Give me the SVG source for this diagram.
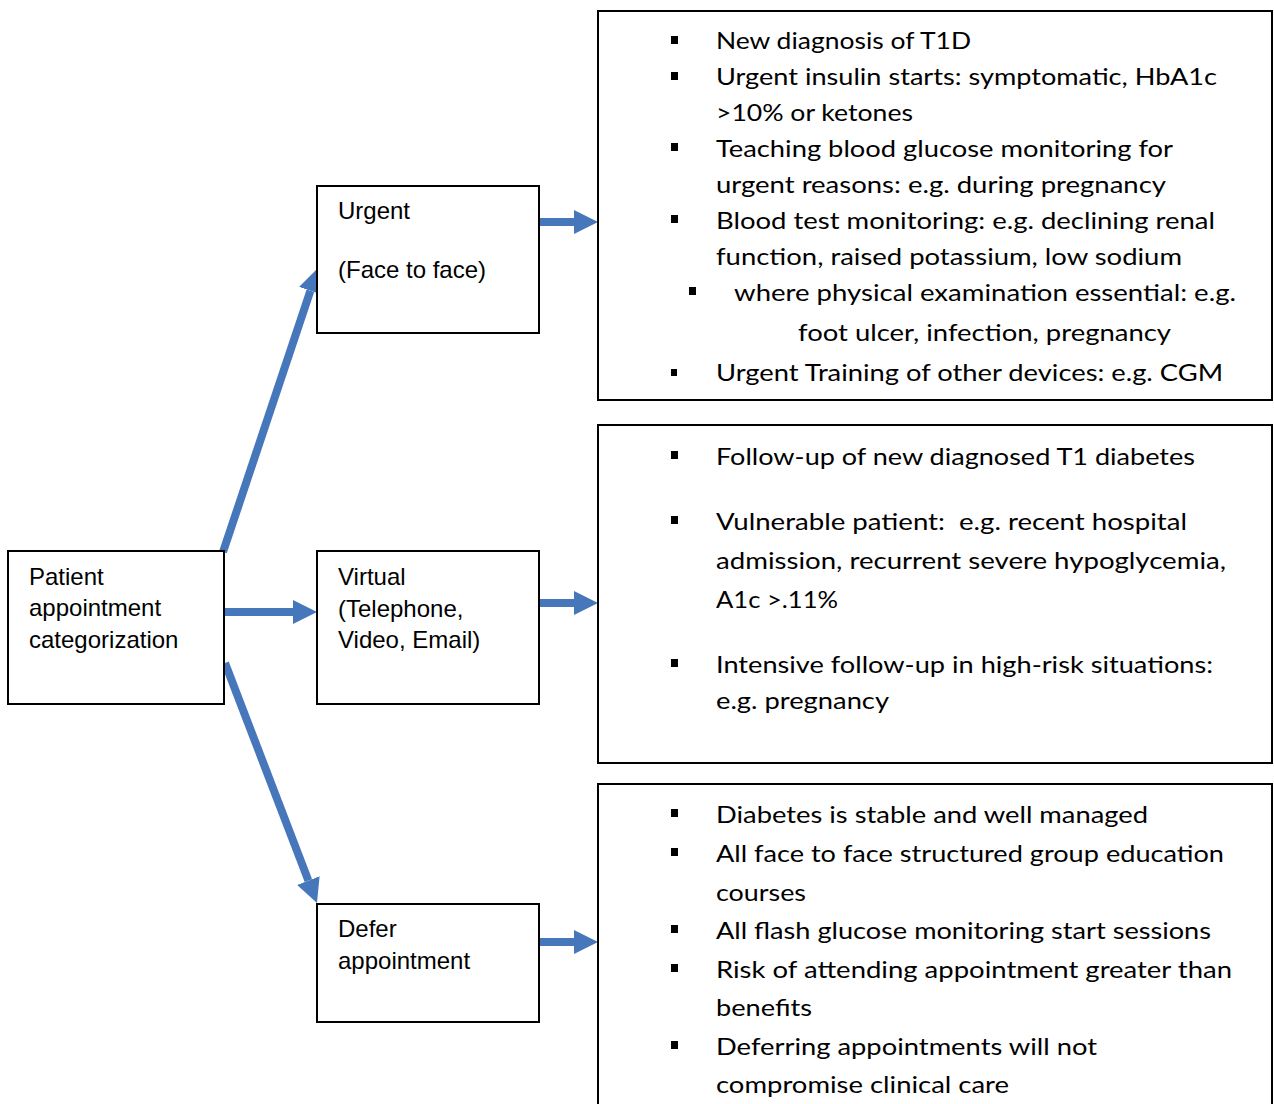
<svg xmlns="http://www.w3.org/2000/svg" width="1274" height="1104" viewBox="0 0 1274 1104">
  <style>
    .box { fill: #ffffff; stroke: #000000; stroke-width: 2; }
    .lbl { font-family: "Liberation Sans", Arial, sans-serif; font-size: 24px; fill: #000000; }
    .item { font-family: Lato, "Open Sans", sans-serif; font-size: 24px; fill: #000000; }
    .bullet { fill: #000000; }
    .conn { stroke: #4677BA; stroke-width: 8; fill: none; marker-end: url(#head); }
  </style>
  <defs>
    <marker id="head" markerUnits="userSpaceOnUse" markerWidth="24" markerHeight="24" refX="0" refY="12" orient="auto">
      <path d="M0,0 L24,12 L0,24 Z" fill="#4677BA"/>
    </marker>
  </defs>

  <rect width="1274" height="1104" fill="#ffffff"/>

  <!-- connectors -->
  <g id="connectors">
    <line class="conn" x1="223" y1="552" x2="310.4" y2="290.8"/>
    <line class="conn" x1="224" y1="612" x2="293" y2="612"/>
    <line class="conn" x1="225" y1="663" x2="308.4" y2="880.6"/>
    <line class="conn" x1="539" y1="222" x2="574" y2="222"/>
    <line class="conn" x1="539" y1="603" x2="574" y2="603"/>
    <line class="conn" x1="539" y1="942" x2="574" y2="942"/>
  </g>

  <!-- start node -->
  <g id="patient">
    <rect class="box" x="8" y="551" width="216" height="153"/>
    <text class="lbl" x="29" y="585">Patient</text>
    <text class="lbl" x="29" y="616">appointment</text>
    <text class="lbl" x="29" y="648">categorization</text>
  </g>

  <!-- category nodes -->
  <g id="urgent">
    <rect class="box" x="317" y="186" width="222" height="147"/>
    <text class="lbl" x="338" y="219">Urgent</text>
    <text class="lbl" x="338" y="278">(Face to face)</text>
  </g>

  <g id="virtual">
    <rect class="box" x="317" y="551" width="222" height="153"/>
    <text class="lbl" x="338" y="585">Virtual</text>
    <text class="lbl" x="338" y="617">(Telephone,</text>
    <text class="lbl" x="338" y="648">Video, Email)</text>
  </g>

  <g id="defer">
    <rect class="box" x="317" y="904" width="222" height="118"/>
    <text class="lbl" x="338" y="937">Defer</text>
    <text class="lbl" x="338" y="969">appointment</text>
  </g>

  <!-- criteria lists -->
  <g id="urgent-criteria">
    <rect class="box" x="598" y="11" width="674" height="389"/>
    <rect class="bullet" x="671" y="36" width="7" height="8"/>
    <text class="item" x="716" y="49" textLength="255" lengthAdjust="spacingAndGlyphs">New diagnosis of T1D</text>
    <rect class="bullet" x="671" y="72" width="7" height="8"/>
    <text class="item" x="716" y="85" textLength="501" lengthAdjust="spacingAndGlyphs">Urgent insulin starts: symptomatic, HbA1c</text>
    <text class="item" x="716" y="121" textLength="197" lengthAdjust="spacingAndGlyphs">&gt;10% or ketones</text>
    <rect class="bullet" x="671" y="143" width="7" height="8"/>
    <text class="item" x="716" y="157" textLength="457" lengthAdjust="spacingAndGlyphs">Teaching blood glucose monitoring for</text>
    <text class="item" x="716" y="193" textLength="450" lengthAdjust="spacingAndGlyphs">urgent reasons: e.g. during pregnancy</text>
    <rect class="bullet" x="671" y="215" width="7" height="8"/>
    <text class="item" x="716" y="229" textLength="499" lengthAdjust="spacingAndGlyphs">Blood test monitoring: e.g. declining renal</text>
    <text class="item" x="716" y="265" textLength="466" lengthAdjust="spacingAndGlyphs">function, raised potassium, low sodium</text>
    <rect class="bullet" x="689" y="287" width="7" height="8"/>
    <text class="item" x="734" y="301" textLength="502" lengthAdjust="spacingAndGlyphs">where physical examination essential: e.g.</text>
    <text class="item" x="798" y="341" textLength="373" lengthAdjust="spacingAndGlyphs">foot ulcer, infection, pregnancy</text>
    <rect class="bullet" x="671" y="369" width="6" height="7"/>
    <text class="item" x="716" y="381" textLength="507" lengthAdjust="spacingAndGlyphs">Urgent Training of other devices: e.g. CGM</text>
  </g>

  <g id="virtual-criteria">
    <rect class="box" x="598" y="425" width="674" height="338"/>
    <rect class="bullet" x="671" y="451" width="7" height="8"/>
    <text class="item" x="716" y="465" textLength="479" lengthAdjust="spacingAndGlyphs">Follow-up of new diagnosed T1 diabetes</text>
    <rect class="bullet" x="671" y="516" width="7" height="8"/>
    <text class="item" x="716" y="530" textLength="471" lengthAdjust="spacingAndGlyphs" xml:space="preserve">Vulnerable patient:  e.g. recent hospital</text>
    <text class="item" x="716" y="569" textLength="510" lengthAdjust="spacingAndGlyphs">admission, recurrent severe hypoglycemia,</text>
    <text class="item" x="716" y="608" textLength="122" lengthAdjust="spacingAndGlyphs">A1c &gt;.11%</text>
    <rect class="bullet" x="671" y="659" width="7" height="8"/>
    <text class="item" x="716" y="673" textLength="497" lengthAdjust="spacingAndGlyphs">Intensive follow-up in high-risk situations:</text>
    <text class="item" x="716" y="709" textLength="173" lengthAdjust="spacingAndGlyphs">e.g. pregnancy</text>
  </g>

  <g id="defer-criteria">
    <rect class="box" x="598" y="784" width="674" height="340"/>
    <rect class="bullet" x="671" y="809" width="7" height="8"/>
    <text class="item" x="716" y="823" textLength="432" lengthAdjust="spacingAndGlyphs">Diabetes is stable and well managed</text>
    <rect class="bullet" x="671" y="848" width="7" height="8"/>
    <text class="item" x="716" y="862" textLength="508" lengthAdjust="spacingAndGlyphs">All face to face structured group education</text>
    <text class="item" x="716" y="901" textLength="90" lengthAdjust="spacingAndGlyphs">courses</text>
    <rect class="bullet" x="671" y="925" width="7" height="8"/>
    <text class="item" x="716" y="939" textLength="495" lengthAdjust="spacingAndGlyphs">All flash glucose monitoring start sessions</text>
    <rect class="bullet" x="671" y="964" width="7" height="8"/>
    <text class="item" x="716" y="978" textLength="516" lengthAdjust="spacingAndGlyphs">Risk of attending appointment greater than</text>
    <text class="item" x="716" y="1016" textLength="96" lengthAdjust="spacingAndGlyphs">benefits</text>
    <rect class="bullet" x="671" y="1041" width="7" height="8"/>
    <text class="item" x="716" y="1055" textLength="381" lengthAdjust="spacingAndGlyphs">Deferring appointments will not</text>
    <text class="item" x="716" y="1093" textLength="293" lengthAdjust="spacingAndGlyphs">compromise clinical care</text>
  </g>
</svg>
